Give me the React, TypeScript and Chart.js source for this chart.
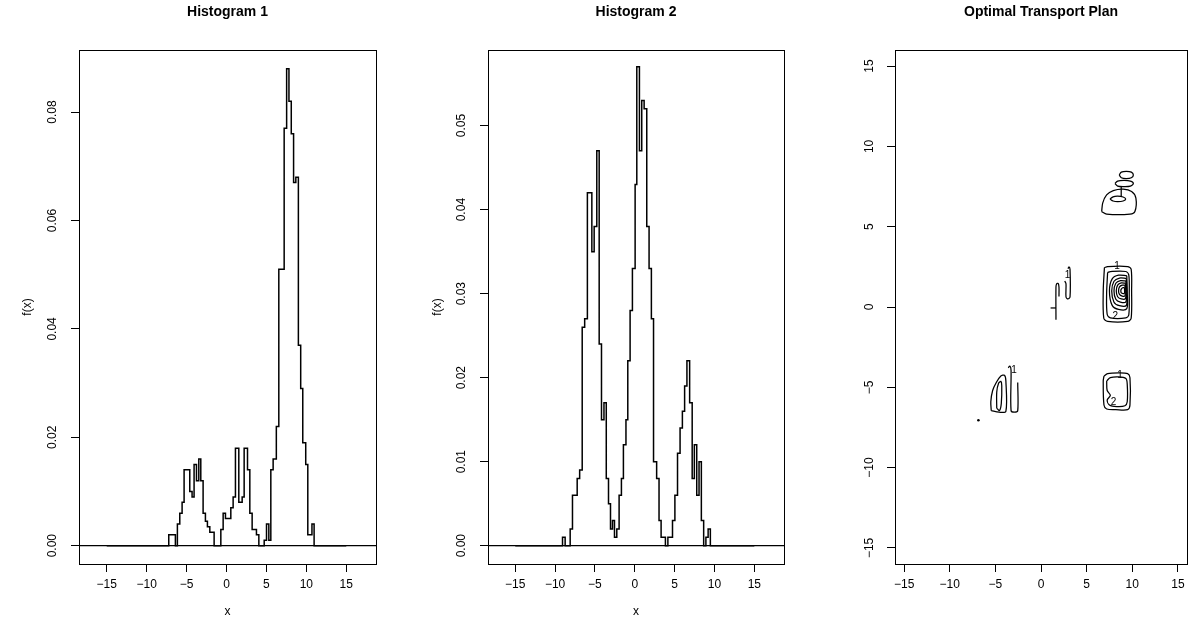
import React, { useEffect, useRef } from "react";
import { Chart, registerables } from "chart.js";

Chart.register(...registerables);

const FONT = "'Liberation Sans', Arial, Helvetica, sans-serif";

// ---------------- data ----------------
// Histogram 1: x where the step changes, and the density from there on
const hist1Breaks = [
  -15, -7.23, -6.4, -6.15, -5.85, -5.56, -5.31, -4.6, -4.31, -4.06, -3.76, -3.47, -3.22,
  -2.93, -2.64, -2.39, -2.09, -1.55, -0.71, -0.42, -0.13, 0.54, 0.83, 1.12, 1.54, 1.96,
  2.21, 2.63, 2.92, 3.21, 3.75, 4.05, 4.72, 5.01, 5.3, 5.55, 5.84, 6.24, 6.55, 7.22,
  7.53, 7.82, 8.11, 8.4, 8.68, 9.0, 9.29, 9.55, 9.92, 10.18, 10.7, 10.97, 15,
];
const hist1Density = [
  0, 0.002, 0, 0.004, 0.006, 0.008, 0.014, 0.01, 0.009, 0.015, 0.012, 0.016, 0.012,
  0.006, 0.0045, 0.0035, 0.0025, 0, 0.003, 0.006, 0.005, 0.007, 0.009, 0.018, 0.008, 0.009,
  0.018, 0.014, 0.006, 0.003, 0.002, 0, 0.001, 0.004, 0.001, 0.014, 0.016, 0.022, 0.051, 0.077,
  0.088, 0.082, 0.076, 0.067, 0.068, 0.037, 0.029, 0.019, 0.015, 0.002, 0.004, 0, 0,
];

// Histogram 2
const hist2Breaks = [
  -15, -9.07, -8.74, -8.11, -7.82, -7.23, -6.92, -6.6, -6.29, -5.95, -5.39, -5.1, -4.77,
  -4.47, -4.18, -3.87, -3.58, -3.3, -3.05, -2.8, -2.55, -2.26, -1.97, -1.68, -1.43, -1.11,
  -0.88, -0.59, -0.3, 0.04, 0.25, 0.58, 0.87, 1.17, 1.5, 1.79, 2.08, 2.35, 2.74, 3.04,
  3.3, 3.84, 4.15, 4.73, 5.03, 5.36, 5.68, 5.97, 6.25, 6.54, 6.88, 7.2, 7.47, 7.77, 8.06,
  8.35, 8.64, 8.92, 9.2, 9.48, 15,
];
const hist2Density = [
  0, 0.001, 0, 0.002, 0.006, 0.008, 0.009, 0.026, 0.027, 0.042, 0.035, 0.038, 0.047,
  0.024, 0.015, 0.017, 0.008, 0.005, 0.002, 0.003, 0.001, 0.002, 0.006, 0.008, 0.012, 0.015,
  0.022, 0.028, 0.033, 0.043, 0.057, 0.047, 0.053, 0.052, 0.038, 0.033, 0.027, 0.01, 0.008, 0.003,
  0.001, 0, 0.001, 0.003, 0.006, 0.011, 0.014, 0.016, 0.019, 0.022, 0.017, 0.008, 0.012, 0.006, 0.01,
  0.003, 0, 0.001, 0.002, 0, 0,
];

// tick values and labels
const histXTicks = [-15, -10, -5, 0, 5, 10, 15];
const histXTickLabels = ["\u221215", "\u221210", "\u22125", "0", "5", "10", "15"];
const hist1YTicks = [0, 0.02, 0.04, 0.06, 0.08];
const hist1YTickLabels = ["0.00", "0.02", "0.04", "0.06", "0.08"];
const hist2YTicks = [0, 0.01, 0.02, 0.03, 0.04, 0.05];
const hist2YTickLabels = ["0.00", "0.01", "0.02", "0.03", "0.04", "0.05"];
const planTicks = [-15, -10, -5, 0, 5, 10, 15];
const planTickLabels = ["\u221215", "\u221210", "\u22125", "0", "5", "10", "15"];

// Optimal transport plan: contour lines, [x, y] vertices in data units
const contourTopOuter = [[6.65, 5.94], [6.76, 6.47], [7.19, 6.98], [7.92, 7.25], [9.01, 7.34], [9.93, 7.19], [10.4, 6.78], [10.29, 5.94], [9.75, 5.78], [7.19, 5.78], [6.65, 5.94]];
const contourTopCore = [[7.56, 6.72], [7.9, 6.86], [8.4, 6.9], [9.0, 6.85], [9.28, 6.73], [9.0, 6.6], [8.4, 6.56], [7.9, 6.6], [7.56, 6.72]];
const contourTopRing2 = [[8.1, 7.69], [8.4, 7.84], [9.1, 7.88], [9.8, 7.84], [10.12, 7.69], [9.8, 7.53], [9.1, 7.5], [8.4, 7.53], [8.1, 7.69]];
const contourTopRing3 = [[8.57, 8.22], [8.8, 8.4], [9.35, 8.45], [9.9, 8.4], [10.12, 8.22], [9.9, 8.05], [9.35, 8.0], [8.8, 8.05], [8.57, 8.22]];
const contourTopStem = [[8.79, 7.5], [8.79, 6.88]];

const contourMid1 = [[6.95, 2.45], [7.3, 2.52], [9.5, 2.52], [9.88, 2.35], [9.93, 1.0], [9.88, -0.7], [9.5, -0.9], [7.3, -0.9], [6.88, -0.7], [6.82, 1.0], [6.95, 2.45]];
const contourMid2 = [[7.3, 2.15], [7.6, 2.21], [9.3, 2.21], [9.62, 2.0], [9.67, 0.8], [9.62, -0.5], [9.3, -0.68], [7.6, -0.68], [7.25, -0.45], [7.19, 0.8], [7.3, 2.15]];
const contourMid3 = [[9.4, 1.95], [8.5, 1.98], [7.8, 1.75], [7.5, 1.0], [7.8, 0.1], [8.5, -0.15], [9.4, -0.1], [9.45, 0.9], [9.4, 1.95]];
const contourMid4 = [[9.35, 1.78], [8.6, 1.8], [8.0, 1.6], [7.75, 1.0], [8.0, 0.3], [8.6, 0.08], [9.35, 0.1], [9.4, 0.9], [9.35, 1.78]];
const contourMid5 = [[9.3, 1.62], [8.7, 1.64], [8.2, 1.48], [8.0, 1.0], [8.2, 0.48], [8.7, 0.3], [9.3, 0.32], [9.35, 0.95], [9.3, 1.62]];
const contourMid6 = [[9.25, 1.48], [8.8, 1.5], [8.4, 1.36], [8.25, 1.0], [8.4, 0.64], [8.8, 0.5], [9.25, 0.52], [9.3, 1.0], [9.25, 1.48]];
const contourMid7 = [[9.2, 1.35], [8.9, 1.36], [8.6, 1.25], [8.5, 1.0], [8.6, 0.78], [8.9, 0.68], [9.2, 0.7], [9.22, 1.0], [9.2, 1.35]];
const contourMid8 = [[9.15, 1.2], [8.95, 1.2], [8.78, 1.1], [8.75, 1.0], [8.8, 0.88], [9.0, 0.84], [9.15, 0.86], [9.15, 1.2]];

const contourCentreA = [[1.64, -0.79], [1.64, 1.25], [1.72, 1.45], [1.88, 1.47], [1.97, 1.25], [1.97, 0.66]];
const contourCentreTick = [[1.05, -0.06], [1.64, -0.06]];
const contourCentreB = [[2.6, 1.62], [2.74, 1.45], [2.74, 0.62], [2.95, 0.5], [3.18, 0.62], [3.18, 2.35], [3.06, 2.5], [2.96, 2.38]];

const contourLowLeftOuter = [[-5.45, -6.45], [-5.5, -5.9], [-5.3, -5.2], [-4.9, -4.7], [-4.4, -4.3], [-4.0, -4.25], [-3.85, -4.6], [-3.85, -6.5], [-4.6, -6.55], [-5.45, -6.45]];
const contourLowLeftInner = [[-4.85, -6.3], [-4.85, -5.3], [-4.65, -4.75], [-4.4, -4.63], [-4.3, -4.9], [-4.35, -6.0], [-4.55, -6.45], [-4.85, -6.3]];
const contourLowLeftRight = [[-3.6, -3.78], [-3.4, -3.68], [-3.28, -3.95], [-3.28, -6.45], [-2.9, -6.55], [-2.55, -6.45], [-2.55, -4.7]];
const planDot = [[-6.86, -7.05]];

const contourLowRightOuter = [[6.9, -4.3], [7.3, -4.15], [8.5, -4.1], [9.5, -4.15], [9.75, -4.4], [9.75, -6.1], [9.5, -6.39], [8.2, -6.39], [7.2, -6.35], [6.9, -6.1], [6.82, -4.6], [6.9, -4.3]];
const contourLowRightInner = [[7.2, -4.6], [7.6, -4.4], [8.5, -4.35], [9.3, -4.45], [9.45, -4.8], [9.45, -5.9], [9.2, -6.15], [8.3, -6.2], [7.5, -6.1], [7.25, -5.8], [7.6, -5.5], [7.25, -5.2], [7.2, -4.6]];

const contourLines = [
  contourTopOuter, contourTopCore, contourTopRing2, contourTopRing3, contourTopStem,
  contourMid1, contourMid2, contourMid3, contourMid4, contourMid5, contourMid6, contourMid7, contourMid8,
  contourCentreA, contourCentreTick, contourCentreB,
  contourLowLeftOuter, contourLowLeftInner, contourLowLeftRight,
  contourLowRightOuter, contourLowRightInner,
];

const contourLabelX = [8.65, 7.95, 8.32, 8.15, 2.9, -2.95];
const contourLabelY = [-4.27, -5.9, 2.52, -0.55, 1.95, -3.95];
const contourLabelText = ["1", "2", "1", "2", "1", "1"];

// ---------------- helpers ----------------
const framePlugin = {
  id: "frame",
  afterDraw(chart: any, _args: any, opts: any) {
    const { ctx, chartArea: a } = chart;
    ctx.save();
    ctx.strokeStyle = "#000";
    ctx.lineWidth = 1;
    ctx.strokeRect(a.left + 0.5, a.top + 0.5, a.right - a.left, a.bottom - a.top);
    ctx.font = `bold ${opts.titleSize}px ${FONT}`;
    ctx.fillStyle = "#000";
    ctx.textAlign = "center";
    ctx.textBaseline = "middle";
    ctx.fillText(opts.title, (a.left + a.right) / 2, opts.titleY);
    ctx.restore();
  },
};

const zeroLinePlugin = {
  id: "zeroLine",
  beforeDatasetsDraw(chart: any) {
    const { ctx, chartArea: a } = chart;
    const y = chart.scales.y.getPixelForValue(0);
    ctx.save();
    ctx.strokeStyle = "#000";
    ctx.lineWidth = 1.2;
    ctx.beginPath();
    ctx.moveTo(a.left, y);
    ctx.lineTo(a.right, y);
    ctx.stroke();
    ctx.restore();
  },
};

const contourLabelPlugin = {
  id: "contourLabels",
  afterDatasetsDraw(chart: any) {
    const { ctx } = chart;
    const xs = chart.scales.x;
    const ys = chart.scales.y;
    ctx.save();
    ctx.font = `10px ${FONT}`;
    ctx.fillStyle = "#000";
    ctx.textAlign = "center";
    ctx.textBaseline = "middle";
    contourLabelText.forEach((t, i) => {
      ctx.fillText(t, xs.getPixelForValue(contourLabelX[i]), ys.getPixelForValue(contourLabelY[i]));
    });
    ctx.restore();
  },
};

const TICK = 12;
const TITLE = 14;
const TITLE_Y = 12;

function axis(opts: {
  min: number; max: number; ticks: number[]; labels: string[]; vertical: boolean;
  size: number; pad: number; title?: string; titlePad?: number;
}) {
  const o: any = {
    type: "linear",
    min: opts.min,
    max: opts.max,
    afterFit: (s: any) => {
      if (opts.vertical) s.width = opts.size;
      else s.height = opts.size;
    },
    afterBuildTicks: (s: any) => {
      s.ticks = opts.ticks.map((v) => ({ value: v }));
    },
    grid: { drawOnChartArea: false, drawTicks: true, tickLength: 8, color: "#000", lineWidth: 1 },
    border: { display: false },
    ticks: {
      autoSkip: false,
      color: "#000",
      font: { family: FONT, size: TICK },
      padding: opts.pad,
      callback: (_v: any, i: number) => opts.labels[i],
      ...(opts.vertical
        ? { minRotation: 90, maxRotation: 90, crossAlign: "center" }
        : { minRotation: 0, maxRotation: 0 }),
    },
  };
  if (opts.title) {
    o.title = {
      display: true,
      text: opts.title,
      color: "#000",
      font: { family: FONT, size: TICK },
      padding: opts.vertical ? { top: opts.titlePad, bottom: 0 } : { top: 0, bottom: opts.titlePad },
    };
  }
  return o;
}

function histConfig(p: {
  breaks: number[]; density: number[]; yTicks: number[]; yLabels: string[];
  xMin: number; xMax: number; yMin: number; yMax: number;
  yAxisWidth: number; rightPad: number; yTickPad: number; yTitlePad: number; title: string;
}): any {
  return {
    type: "line",
    data: {
      datasets: [
        {
          data: p.breaks.map((x, i) => ({ x, y: p.density[i] })),
          stepped: "before",
          borderColor: "#000",
          borderWidth: 1.5,
          pointRadius: 0,
          fill: false,
        },
      ],
    },
    options: {
      animation: false,
      responsive: false,
      devicePixelRatio: 1,
      layout: { padding: { left: 0, right: p.rightPad, top: 50, bottom: 0 } },
      plugins: {
        legend: { display: false },
        tooltip: { enabled: false },
        title: { display: false },
        frame: { title: p.title, titleY: TITLE_Y, titleSize: TITLE },
      },
      scales: {
        x: axis({ min: p.xMin, max: p.xMax, ticks: histXTicks, labels: histXTickLabels, vertical: false, size: 73, pad: 5, title: "x", titlePad: 18 }),
        y: axis({ min: p.yMin, max: p.yMax, ticks: p.yTicks, labels: p.yLabels, vertical: true, size: p.yAxisWidth, pad: p.yTickPad, title: "f(x)", titlePad: p.yTitlePad }),
      },
    },
    plugins: [zeroLinePlugin, framePlugin],
  };
}

function planConfig(): any {
  const datasets: any[] = contourLines.map((line) => ({
    data: line.map(([x, y]) => ({ x, y })),
    showLine: true,
    borderColor: "#000",
    borderWidth: 1.25,
    pointRadius: 0,
    tension: line.length > 3 ? 0.3 : 0,
    fill: false,
  }));
  datasets.push({
    data: planDot.map(([x, y]) => ({ x, y })),
    showLine: false,
    pointRadius: 1.3,
    pointBorderWidth: 0,
    pointBackgroundColor: "#000",
  });
  return {
    type: "scatter",
    data: { datasets },
    options: {
      animation: false,
      responsive: false,
      devicePixelRatio: 1,
      layout: { padding: { left: 0, right: 7, top: 50, bottom: 0 } },
      plugins: {
        legend: { display: false },
        tooltip: { enabled: false },
        title: { display: false },
        frame: { title: "Optimal Transport Plan", titleY: TITLE_Y, titleSize: TITLE },
      },
      scales: {
        x: axis({ min: -16, max: 16, ticks: planTicks, labels: planTickLabels, vertical: false, size: 73, pad: 5 }),
        y: axis({ min: -16, max: 16, ticks: planTicks, labels: planTickLabels, vertical: true, size: 99, pad: 7.5 }),
      },
    },
    plugins: [contourLabelPlugin, framePlugin],
  };
}

export default function App() {
  const c1 = useRef<HTMLCanvasElement>(null);
  const c2 = useRef<HTMLCanvasElement>(null);
  const c3 = useRef<HTMLCanvasElement>(null);

  useEffect(() => {
    document.body.style.margin = "0";
    const charts = [
      new Chart(
        c1.current!,
        histConfig({
          breaks: hist1Breaks, density: hist1Density, yTicks: hist1YTicks, yLabels: hist1YTickLabels,
          xMin: -18.47, xMax: 18.72, yMin: -0.00338, yMax: 0.09146,
          yAxisWidth: 79, rightPad: 22, yTickPad: 6.3, yTitlePad: 20, title: "Histogram 1",
        })
      ),
      new Chart(
        c2.current!,
        histConfig({
          breaks: hist2Breaks, density: hist2Density, yTicks: hist2YTicks, yLabels: hist2YTickLabels,
          xMin: -18.42, xMax: 18.72, yMin: -0.00218, yMax: 0.059,
          yAxisWidth: 90, rightPad: 12, yTickPad: 6.3, yTitlePad: 32, title: "Histogram 2",
        })
      ),
      new Chart(c3.current!, planConfig()),
    ];
    return () => charts.forEach((c) => c.destroy());
  }, []);

  const cs: React.CSSProperties = { position: "absolute", top: 0 };
  return (
    <div style={{ position: "relative", width: 1194, height: 637, background: "#fff", overflow: "hidden" }}>
      <canvas ref={c1} width={398} height={637} style={{ ...cs, left: 0 }} />
      <canvas ref={c2} width={398} height={637} style={{ ...cs, left: 398 }} />
      <canvas ref={c3} width={398} height={637} style={{ ...cs, left: 796 }} />
    </div>
  );
}
